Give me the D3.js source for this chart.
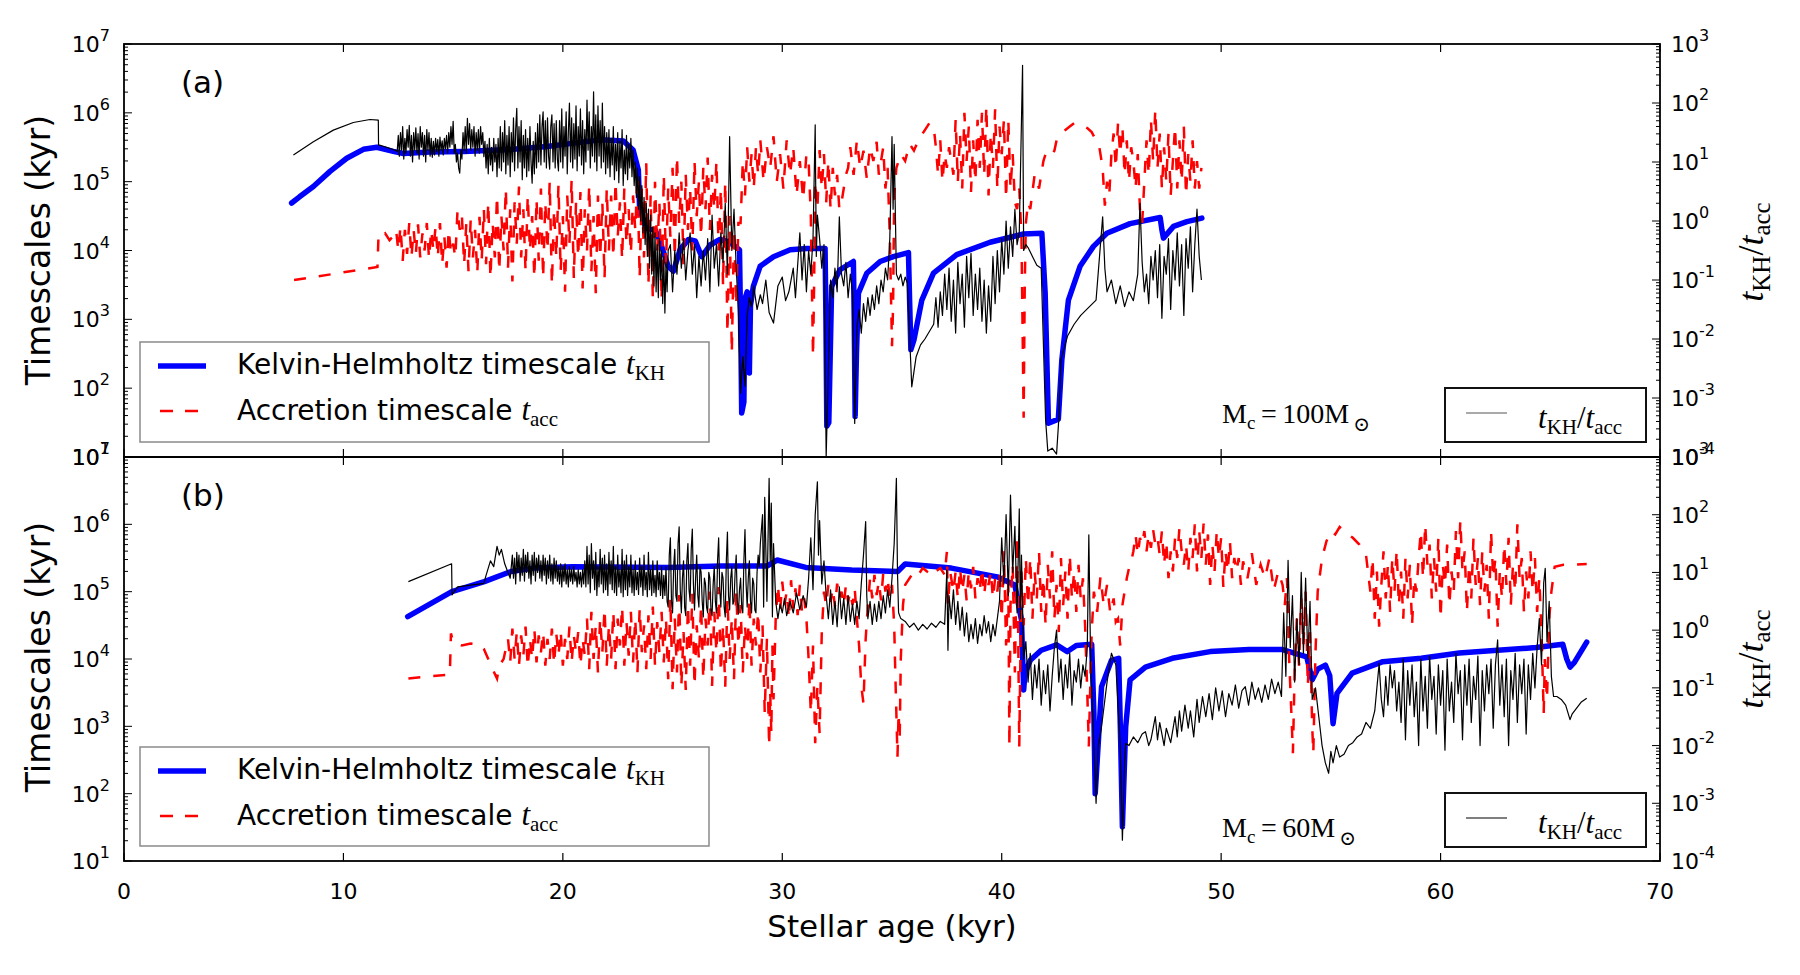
<!DOCTYPE html>
<html><head><meta charset="utf-8">
<script src="https://cdn.jsdelivr.net/npm/d3@7"></script>
<style>body{margin:0;background:#fff}svg{display:block}</style>
</head><body>
<script>
// ---------- DATA (stellar age in kyr, value given as log10) ----------
const xTicks = [0,10,20,30,40,50,60,70];
const leftExps = [1,2,3,4,5,6,7];
const rightExps = [-4,-3,-2,-1,0,1,2,3];

// Panel (a): Mc = 100 Msun
const kh_a = [[7.64,4.69],[8.0,4.78],[8.63,4.93],[9.39,5.15],[10.15,5.34],[10.91,5.47],[11.52,5.50],[12.27,5.44],[12.73,5.41],[13.95,5.43],[15.5,5.44],[17.74,5.47],[19.27,5.51],[20.5,5.56],[21.7,5.61],[22.76,5.59],[23.2,5.46],[23.44,5.17],[23.5,4.59],[23.82,4.32],[24.2,4.30],[24.4,4.16],[24.8,3.77],[25.04,3.70],[25.34,4.01],[25.72,4.16],[26.03,4.14],[26.33,3.91],[26.71,4.08],[27.16,4.16],[27.6,4.12],[28.05,4.01],[28.12,2.5],[28.15,1.64],[28.25,1.8],[28.3,3.3],[28.4,3.4],[28.5,2.22],[28.55,3.2],[28.68,3.48],[28.99,3.77],[29.6,3.91],[30.36,4.01],[31.12,4.03],[31.95,4.03],[31.99,3.0],[32.03,1.45],[32.12,1.5],[32.25,3.48],[32.63,3.72],[33.24,3.84],[33.28,3.0],[33.32,1.59],[33.38,2.5],[33.47,3.38],[33.85,3.67],[34.46,3.84],[35.06,3.91],[35.75,3.97],[35.8,3.3],[35.86,2.56],[36.0,2.7],[36.36,3.28],[36.89,3.67],[37.95,3.94],[39.47,4.12],[40.99,4.24],[41.83,4.25],[41.98,3.38],[42.13,1.49],[42.58,1.55],[42.74,2.41],[43.04,3.28],[43.57,3.77],[44.18,4.06],[44.79,4.25],[45.85,4.39],[47.22,4.48],[47.3,4.3],[47.37,4.18],[47.83,4.35],[48.44,4.42],[49.12,4.47]];

const acc_a = [[7.75,3.57],[11.55,3.76],[11.6,4.23],[11.7,4.2],[11.9,4.25],[12.1,4.15],[12.3,4.22],[12.4,4.3],[12.5,4.0],[12.6,4.35],[12.7,3.85],[12.8,4.3],[12.9,3.95],[13.0,4.4],[13.1,3.9],[13.2,4.3],[13.3,3.95],[13.4,4.38],[13.5,3.9],[13.6,4.25],[13.7,4.0],[13.8,4.4],[13.9,3.88],[14.0,4.3],[14.1,4.0],[14.2,4.35],[14.3,3.9],[14.4,4.4],[14.5,3.8],[14.6,4.2],[14.7,3.75],[14.8,4.3],[14.9,3.95],[15.0,4.1],[15.1,3.9],[15.2,4.59],[15.3,4.3],[15.4,4.5],[15.5,3.8],[15.6,4.4],[15.7,3.7],[15.8,4.45],[15.9,3.9],[16.0,4.3],[16.1,3.67],[16.2,4.49],[16.3,3.85],[16.4,4.6],[16.5,3.8],[16.6,4.7],[16.7,3.6],[16.8,4.4],[16.9,3.9],[17.0,4.8],[17.1,3.7],[17.2,4.5],[17.3,4.0],[17.4,4.9],[17.5,3.75],[17.6,4.6],[17.7,3.55],[17.8,4.7],[17.9,4.1],[18.0,4.93],[18.1,3.9],[18.2,4.6],[18.3,3.7],[18.4,4.8],[18.5,4.0],[18.6,4.5],[18.7,3.6],[18.8,4.75],[18.9,3.85],[19.0,4.9],[19.1,3.6],[19.2,4.7],[19.3,4.0],[19.4,5.0],[19.5,3.5],[19.6,4.6],[19.7,3.9],[19.8,4.95],[19.9,3.7],[20.0,4.5],[20.1,3.4],[20.2,4.8],[20.3,4.1],[20.4,5.03],[20.5,3.6],[20.6,4.7],[20.7,3.9],[20.8,4.85],[20.9,3.45],[21.0,4.6],[21.1,4.0],[21.2,4.95],[21.3,3.7],[21.4,4.5],[21.5,3.38],[21.6,4.8],[21.7,3.9],[21.8,4.7],[21.9,3.6],[22.0,4.9],[22.1,4.0],[22.2,4.8],[22.3,3.9],[22.4,5.0],[22.5,4.2],[22.6,4.7],[22.7,3.87],[22.8,4.9],[22.9,4.1],[23.0,4.6],[23.1,3.95],[23.2,4.8],[23.3,4.3],[23.4,5.1],[23.5,3.6],[23.6,4.9],[23.7,3.9],[23.8,5.27],[23.9,3.5],[24.0,4.8],[24.1,3.3],[24.2,5.0],[24.3,4.0],[24.4,4.7],[24.5,3.28],[24.6,5.1],[24.7,3.8],[24.8,4.9],[24.9,4.2],[25.0,5.2],[25.1,3.9],[25.2,5.37],[25.3,4.4],[25.4,5.0],[25.5,3.8],[25.6,5.1],[25.7,4.3],[25.8,4.9],[25.9,4.0],[26.0,5.3],[26.1,4.5],[26.2,5.0],[26.3,4.2],[26.4,5.2],[26.5,4.6],[26.6,5.35],[26.7,4.3],[26.8,5.1],[26.9,4.6],[27.0,5.3],[27.1,4.0],[27.2,4.9],[27.3,3.5],[27.4,5.0],[27.5,2.8],[27.6,4.5],[27.7,2.51],[27.8,4.3],[27.9,3.2],[28.0,4.4],[28.1,4.4],[28.2,5.3],[28.3,4.8],[28.4,5.5],[28.5,5.0],[28.6,5.4],[28.7,4.9],[28.8,5.5],[28.9,5.1],[29.0,5.6],[29.15,5.0],[29.3,5.5],[29.45,5.2],[29.6,5.66],[29.75,5.0],[29.9,5.4],[30.05,4.9],[30.2,5.6],[30.35,5.1],[30.5,5.5],[30.65,4.8],[30.8,5.3],[30.95,4.74],[31.1,5.4],[31.2,5.3],[31.3,4.5],[31.4,2.46],[31.45,3.5],[31.5,5.0],[31.6,4.6],[31.7,5.46],[31.8,4.9],[31.9,5.4],[32.0,4.7],[32.1,5.3],[32.2,4.6],[32.3,5.2],[32.4,4.8],[32.5,5.1],[32.6,4.6],[32.7,4.7],[32.8,4.9],[32.9,5.1],[33.0,5.2],[33.1,5.5],[33.25,5.1],[33.4,5.6],[33.55,5.2],[33.7,5.45],[33.85,5.05],[34.0,5.5],[34.15,5.3],[34.3,5.58],[34.4,5.1],[34.6,5.5],[34.7,4.9],[34.8,5.2],[34.9,4.2],[35.0,2.61],[35.05,3.2],[35.1,4.8],[35.2,5.2],[35.4,5.4],[35.6,5.3],[35.8,5.55],[36.0,5.45],[36.2,5.6],[36.4,5.7],[36.6,5.8],[36.7,5.85],[36.9,5.8],[37.0,5.5],[37.1,5.1],[37.2,5.6],[37.3,5.0],[37.4,5.4],[37.5,5.2],[37.6,5.5],[37.8,5.1],[37.9,5.9],[38.0,5.0],[38.1,5.7],[38.2,4.9],[38.3,6.0],[38.4,5.3],[38.5,5.8],[38.6,4.85],[38.7,5.6],[38.8,5.0],[38.9,5.9],[39.0,5.2],[39.1,6.0],[39.2,5.1],[39.3,6.1],[39.4,4.8],[39.5,5.7],[39.6,5.2],[39.7,6.05],[39.8,4.9],[39.9,5.8],[40.0,5.4],[40.1,5.9],[40.2,4.75],[40.3,5.9],[40.4,4.9],[40.5,5.4],[40.6,4.7],[40.7,4.6],[40.8,4.9],[40.9,4.2],[41.0,1.57],[41.05,3.5],[41.1,4.4],[41.2,4.7],[41.3,4.6],[41.5,5.1],[41.7,4.9],[41.9,5.3],[42.0,5.4],[42.2,5.35],[42.4,5.45],[42.5,5.6],[42.7,5.7],[42.9,5.75],[43.1,5.8],[43.3,5.85],[43.6,5.82],[43.9,5.78],[44.1,5.72],[44.3,5.6],[44.45,5.5],[44.6,5.2],[44.7,4.65],[44.8,5.0],[44.9,4.8],[45.0,5.4],[45.1,5.7],[45.2,5.2],[45.3,5.85],[45.4,5.4],[45.5,5.8],[45.6,5.1],[45.7,5.6],[45.8,5.0],[45.9,5.5],[46.0,5.3],[46.1,4.9],[46.2,5.4],[46.3,4.6],[46.4,4.4],[46.5,5.0],[46.6,5.6],[46.7,5.1],[46.8,5.9],[46.9,5.3],[47.0,6.05],[47.1,5.2],[47.2,5.7],[47.3,4.9],[47.4,5.5],[47.5,5.0],[47.6,5.7],[47.7,4.8],[47.8,5.3],[47.9,5.8],[48.0,4.9],[48.1,5.6],[48.2,5.0],[48.3,5.8],[48.4,4.8],[48.5,5.4],[48.6,5.0],[48.7,5.6],[48.8,4.9],[48.9,5.3],[49.0,4.9],[49.1,5.2]];

const ratio_a = [[7.72,1.12],[8.63,1.345],[9.54,1.54],[10.45,1.67],[11.21,1.72],[11.59,1.71],[11.6,1.29],[11.97,1.25],[12.35,1.20],[12.45,1.18],
[12.50,1.45],[12.55,1.1],[12.60,1.5],[12.65,1.2],[12.70,1.6],[12.75,1.05],[12.80,1.4],[12.85,1.15],[12.90,1.55],[12.95,1.25],[13.00,1.62],[13.05,1.1],[13.10,1.45],[13.15,1.0],[13.20,1.5],[13.25,1.2],[13.30,1.58],[13.35,1.15],[13.40,1.48],[13.45,1.05],[13.50,1.6],[13.55,1.25],[13.60,1.5],[13.65,1.1],[13.70,1.45],[13.75,1.0],[13.80,1.55],[13.85,1.2],[13.90,1.5],[13.95,1.1],[14.00,1.4],[14.05,1.08],
[14.10,1.35],[14.15,1.12],[14.20,1.4],[14.25,1.18],[14.30,1.38],[14.35,1.1],[14.40,1.42],[14.45,1.2],[14.50,1.36],[14.55,1.12],[14.60,1.4],[14.65,1.22],[14.70,1.45],[14.75,1.15],[14.80,1.5],[14.85,1.25],[14.90,1.6],[14.95,1.3],[15.00,1.69],[15.05,1.15],[15.10,1.3],[15.15,1.0],[15.20,1.15],[15.25,0.9],[15.30,0.81],[15.35,1.2],[15.40,1.05],
[15.45,1.5],[15.50,1.2],[15.55,1.6],[15.60,1.15],[15.65,1.74],[15.70,1.3],[15.75,1.65],[15.80,1.2],[15.85,1.55],[15.90,1.25],[15.95,1.6],[16.00,1.1],[16.05,1.5],[16.10,1.2],[16.15,1.55],[16.20,1.15],[16.25,1.6],[16.30,1.3],[16.35,1.5],[16.40,1.09],
[16.45,1.35],[16.50,0.9],[16.55,1.3],[16.60,0.8],[16.65,1.4],[16.70,0.95],[16.75,1.25],[16.80,0.85],[16.85,1.4],[16.90,1.0],[16.95,1.3],[17.00,0.75],
[17.05,1.4],[17.10,0.9],[17.15,1.6],[17.20,0.85],[17.25,1.5],[17.30,1.0],[17.35,1.7],[17.40,0.8],[17.45,1.45],[17.50,0.95],[17.55,1.6],[17.60,0.75],[17.65,1.5],[17.70,1.0],[17.75,1.75],[17.80,0.85],[17.85,1.55],[17.90,1.91],[17.95,0.9],[18.00,1.6],[18.05,1.0],[18.10,1.7],[18.15,0.7],[18.20,1.45],[18.25,0.9],[18.30,1.55],[18.35,0.75],[18.40,1.4],[18.45,0.85],[18.50,1.6],[18.55,1.0],[18.60,0.64],[18.65,1.35],[18.70,0.8],[18.75,1.5],[18.80,0.9],[18.85,1.65],[18.90,1.0],
[18.95,1.8],[19.00,0.95],[19.05,1.6],[19.10,1.85],[19.15,1.0],[19.20,1.7],[19.25,0.9],[19.30,1.75],[19.35,1.1],[19.40,0.88],[19.45,1.6],[19.50,1.8],[19.55,1.0],[19.60,1.65],[19.65,0.9],[19.70,1.7],[19.75,1.05],[19.80,0.85],
[19.85,1.7],[19.90,1.0],[19.95,1.9],[20.00,0.9],[20.05,1.6],[20.10,1.1],[20.15,1.85],[20.20,0.8],[20.25,1.5],[20.30,2.0],[20.35,1.0],[20.40,1.75],[20.45,0.9],[20.50,1.65],[20.55,1.05],[20.60,1.95],[20.65,0.85],[20.70,1.6],[20.75,1.1],[20.80,1.9],[20.85,0.95],[20.90,1.7],[20.95,0.8],[21.00,1.55],[21.05,1.0],[21.10,2.05],[21.15,1.2],[21.20,1.85],[21.25,0.9],[21.30,1.6],[21.35,1.1],[21.40,2.19],[21.45,1.0],[21.50,1.8],[21.55,0.85],[21.60,1.95],[21.65,1.1],[21.70,1.7],[21.75,0.9],[21.80,2.0],[21.85,1.0],[21.90,1.6],[21.95,0.8],[22.00,1.5],
[22.05,0.9],[22.10,1.55],[22.15,0.75],[22.20,1.4],[22.25,0.95],[22.30,1.6],[22.35,0.7],[22.40,1.3],[22.45,0.85],[22.50,1.5],[22.55,0.65],[22.60,1.35],[22.65,0.9],[22.70,1.55],[22.75,0.6],[22.80,1.2],[22.85,0.8],[22.90,1.45],[22.95,0.7],[23.00,1.3],[23.05,0.9],[23.10,1.4],[23.15,0.75],[23.20,1.2],
[23.25,0.6],[23.30,1.0],[23.35,0.4],[23.40,0.9],[23.45,0.2],[23.50,0.75],[23.55,0.0],[23.60,0.6],[23.65,-0.2],[23.70,0.4],[23.75,-0.4],[23.80,0.3],[23.85,-0.6],[23.90,0.2],[23.95,-0.8],[24.00,0.1],[24.05,-0.9],[24.10,-0.1],[24.15,-1.1],[24.20,-0.2],[24.25,-1.2],[24.30,-0.4],[24.35,-1.3],[24.40,-0.3],[24.45,-1.0],[24.50,-0.5],[24.55,-1.4],[24.60,-0.6],[24.65,-1.56],[24.70,-0.7],[24.75,-1.2],[24.80,-0.5],
[24.9,-0.4],[25.0,-1.2],[25.1,-0.5],[25.2,-0.9],[25.3,-0.2],[25.4,-0.8],[25.5,-0.3],[25.6,-1.0],[25.7,-0.5],[25.8,-0.2],[25.9,-0.9],[26.0,-0.4],[26.1,-1.3],[26.2,-0.6],[26.3,-1.1],[26.4,-0.5],[26.5,-1.0],[26.6,-0.3],[26.7,-1.2],[26.8,0.1],[26.9,-0.8],[27.0,-0.4],[27.1,-1.1],[27.2,-0.2],[27.3,-0.7],[27.4,0.3],[27.5,-0.9],[27.6,1.43],[27.7,-0.5],[27.8,0.2],[27.9,-0.8],[28.0,-1.5],[28.1,-2.92],[28.2,-2.3],[28.3,-2.8],[28.4,-1.6],[28.5,-1.3],[28.6,-1.45],[28.7,-1.1],[28.85,-1.5],[29.0,-1.25],[29.1,-1.4],[29.25,-1.0],[29.4,-1.55],[29.6,-1.73],[29.8,-1.1],[30.0,-0.95],[30.15,-1.35],[30.3,-1.2],[30.5,-0.8],[30.6,-1.3],[30.7,-0.75],[30.8,-0.2],[30.9,-1.0],[31.0,-0.4],[31.1,-1.2],[31.2,-0.5],[31.3,-0.9],[31.4,-0.3],[31.5,1.63],[31.55,-0.6],[31.6,0.1],[31.7,-0.3],[31.8,-0.8],[31.9,-0.4],[32.0,-3.99],[32.1,-2.5],[32.2,-1.0],[32.3,-1.3],[32.4,-0.8],[32.5,-1.2],[32.6,0.07],[32.7,-0.9],[32.8,-1.1],[32.9,-0.7],[33.0,-1.3],[33.1,-0.9],[33.2,-1.2],[33.3,-3.43],[33.4,-1.8],[33.5,-1.5],[33.6,-1.9],[33.7,-1.4],[33.8,-1.7],[33.9,-1.3],[34.0,-1.6],[34.1,-1.25],[34.2,-1.5],[34.3,-1.1],[34.4,-1.4],[34.5,-1.0],[34.6,-1.2],[34.7,-0.8],[34.8,-1.0],[34.9,-0.3],[35.0,1.43],[35.05,0.2],[35.1,1.3],[35.2,-0.9],[35.3,-1.0],[35.4,-0.9],[35.5,-1.1],[35.6,-0.95],[35.7,-1.05],[35.9,-2.81],[36.1,-2.3],[36.3,-2.1],[36.5,-2.0],[36.9,-1.75],[37.0,-1.3],[37.1,-1.8],[37.2,-1.2],[37.3,-1.6],[37.4,-0.9],[37.5,-1.5],[37.6,-0.8],[37.7,-1.7],[37.8,-1.0],[37.9,-1.9],[38.0,-0.7],[38.1,-1.4],[38.2,-0.9],[38.3,-1.8],[38.4,-0.6],[38.5,-1.3],[38.6,-0.55],[38.7,-1.6],[38.8,-0.9],[38.9,-1.5],[39.0,-0.8],[39.1,-1.7],[39.2,-1.0],[39.3,-1.9],[39.4,-1.1],[39.5,-1.7],[39.6,-0.6],[39.7,-1.4],[39.8,-0.5],[39.9,-1.2],[40.0,-0.3],[40.1,-0.9],[40.2,0.0],[40.3,-0.8],[40.4,-0.1],[40.5,-0.6],[40.6,0.2],[40.7,-0.4],[40.8,-0.2],[40.95,2.64],[41.0,-0.5],[41.1,-0.4],[41.2,-0.45],[41.4,-0.6],[41.6,-0.75],[41.8,-0.8],[42.0,-3.37],[42.1,-3.9],[42.3,-3.85],[42.5,-3.95],[42.6,-3.37],[42.7,-2.35],[43.0,-1.95],[43.3,-1.75],[43.6,-1.6],[44.0,-1.45],[44.3,-1.34],[44.6,0.07],[44.7,-0.8],[44.8,-1.2],[45.0,-1.0],[45.2,-1.4],[45.4,-1.1],[45.6,-1.45],[45.8,-1.2],[46.0,-1.35],[46.2,-0.9],[46.3,0.3],[46.4,-0.7],[46.5,-1.2],[46.6,-0.9],[46.7,-1.4],[46.8,-0.6],[46.9,-1.0],[47.0,-0.5],[47.1,-1.3],[47.2,-0.4],[47.3,-1.65],[47.4,-0.6],[47.5,-0.9],[47.6,-0.3],[47.7,-1.5],[47.8,-0.5],[47.9,-1.0],[48.0,-0.2],[48.1,-1.1],[48.2,-0.4],[48.3,-1.6],[48.4,-0.3],[48.5,-0.8],[48.6,-0.1],[48.7,-1.2],[48.8,-0.4],[48.9,0.2],[49.0,-0.6],[49.1,-1.0]];

// Panel (b): Mc = 60 Msun
const kh_b = [[12.93,4.63],[14.94,5.0],[16.42,5.15],[17.64,5.30],[18.69,5.35],[20.43,5.37],[24.8,5.36],[27.2,5.38],[29.3,5.38],[29.76,5.47],[31.07,5.36],[33.16,5.32],[35.26,5.30],[35.6,5.41],[37.7,5.35],[39.8,5.22],[39.93,5.20],[40.6,5.1],[40.9,4.58],[41.0,3.54],[41.06,3.79],[41.3,3.98],[41.8,4.13],[42.5,4.21],[42.99,4.11],[43.4,4.2],[44.1,4.22],[44.2,3.2],[44.26,2.0],[44.4,2.75],[44.55,3.59],[45.0,3.98],[45.33,4.01],[45.42,2.8],[45.5,1.51],[45.58,2.3],[45.65,2.99],[45.85,3.69],[46.55,3.88],[47.77,4.01],[49.5,4.11],[51.27,4.14],[52.8,4.14],[53.9,4.03],[54.15,3.69],[54.4,3.85],[54.75,3.91],[54.95,3.75],[55.1,3.04],[55.28,3.49],[55.97,3.79],[57.37,3.96],[59.12,4.01],[60.85,4.09],[62.6,4.13],[64.35,4.17],[65.57,4.22],[65.75,4.0],[65.9,3.88],[66.1,3.95],[66.66,4.25]];

const acc_b = [[12.96,3.71],[14.85,3.77],[14.9,4.38],[15.0,4.25],[15.4,4.2],[15.8,4.23],[16.2,4.22],[16.4,4.15],[16.6,4.0],[16.8,3.85],[17.0,3.71],[17.1,3.9],[17.3,4.0],[17.5,4.3],[17.6,3.95],[17.7,4.45],[17.8,4.0],[17.9,4.4],[18.0,3.9],[18.1,4.35],[18.2,4.05],[18.3,4.48],[18.4,3.88],[18.5,4.3],[18.6,4.0],[18.7,4.45],[18.8,3.95],[18.9,4.35],[19.0,4.1],[19.1,4.4],[19.2,3.9],[19.3,4.3],[19.4,4.0],[19.5,4.45],[19.6,3.92],[19.7,4.38],[19.8,4.05],[19.9,4.42],[20.0,3.9],[20.1,4.3],[20.2,4.0],[20.3,4.48],[20.4,3.95],[20.5,4.35],[20.6,4.1],[20.7,4.4],[20.8,3.9],[20.9,4.3],[21.0,4.05],[21.1,4.6],[21.2,3.85],[21.3,4.7],[21.4,4.0],[21.5,4.5],[21.6,3.8],[21.7,4.6],[21.8,4.1],[21.9,4.75],[22.0,3.9],[22.1,4.5],[22.2,4.0],[22.3,4.7],[22.4,3.85],[22.5,4.6],[22.6,4.2],[22.7,4.78],[22.8,3.9],[22.9,4.55],[23.0,4.05],[23.1,4.7],[23.2,3.95],[23.3,4.6],[23.4,3.8],[23.5,4.75],[23.6,4.1],[23.7,4.5],[23.8,3.85],[23.9,4.65],[24.0,4.0],[24.1,4.78],[24.2,3.9],[24.3,4.55],[24.4,4.1],[24.5,4.7],[24.6,3.95],[24.7,4.6],[24.8,3.7],[24.9,4.9],[25.0,3.55],[25.1,4.6],[25.2,3.8],[25.3,4.95],[25.4,3.6],[25.5,4.4],[25.6,3.54],[25.7,4.8],[25.8,3.9],[25.9,4.97],[26.0,3.6],[26.1,4.5],[26.2,4.0],[26.3,4.8],[26.4,3.7],[26.5,4.6],[26.6,4.2],[26.7,5.0],[26.8,3.6],[26.9,4.7],[27.0,4.1],[27.1,5.07],[27.2,3.8],[27.3,4.5],[27.4,3.59],[27.5,4.9],[27.6,4.0],[27.7,4.6],[27.8,3.7],[27.9,5.0],[28.0,4.2],[28.1,4.8],[28.2,3.8],[28.3,4.5],[28.4,4.0],[28.5,4.9],[28.6,3.9],[28.7,4.6],[28.8,4.2],[28.9,4.7],[29.0,3.8],[29.1,4.5],[29.2,3.2],[29.3,4.3],[29.4,2.7],[29.45,3.5],[29.5,2.9],[29.55,4.2],[29.6,3.4],[29.7,4.6],[29.8,5.1],[29.9,4.7],[30.0,5.15],[30.1,4.8],[30.2,5.0],[30.3,4.6],[30.4,5.17],[30.5,4.75],[30.6,5.05],[30.7,4.65],[30.8,5.1],[30.9,4.7],[31.0,4.9],[31.1,4.6],[31.2,4.0],[31.3,3.2],[31.4,4.2],[31.5,2.75],[31.6,3.6],[31.7,2.9],[31.8,4.4],[31.9,5.0],[32.0,4.8],[32.1,5.1],[32.2,4.85],[32.3,5.05],[32.4,4.78],[32.5,5.12],[32.6,4.9],[32.7,5.0],[32.8,4.8],[32.9,5.1],[33.0,4.85],[33.1,5.0],[33.2,4.8],[33.3,5.05],[33.4,4.6],[33.5,4.2],[33.6,3.6],[33.7,3.34],[33.8,4.3],[33.9,4.8],[34.0,5.2],[34.1,4.9],[34.2,5.25],[34.3,4.95],[34.4,5.15],[34.5,4.87],[34.6,5.27],[34.7,5.0],[34.8,5.2],[34.9,4.9],[35.0,5.1],[35.1,4.5],[35.15,3.8],[35.25,2.55],[35.3,3.2],[35.35,2.8],[35.4,4.0],[35.5,4.8],[35.6,5.1],[35.8,5.2],[36.0,5.3],[36.2,5.25],[36.4,5.35],[36.6,5.3],[36.8,5.37],[37.0,5.3],[37.2,5.35],[37.4,5.25],[37.5,5.59],[37.55,4.8],[37.65,5.3],[37.8,5.0],[37.9,5.3],[38.0,4.9],[38.1,5.35],[38.2,5.0],[38.3,5.25],[38.4,4.87],[38.5,5.3],[38.6,5.05],[38.7,5.37],[38.8,4.9],[38.9,5.2],[39.0,5.0],[39.1,5.35],[39.2,4.95],[39.3,5.25],[39.4,5.1],[39.5,5.3],[39.6,4.9],[39.7,5.2],[39.8,5.0],[39.9,5.3],[40.0,4.6],[40.1,5.6],[40.2,4.2],[40.3,5.2],[40.35,2.7],[40.4,4.8],[40.5,5.4],[40.6,3.8],[40.7,5.81],[40.75,4.4],[40.8,2.7],[40.85,4.0],[40.9,5.3],[41.0,4.5],[41.1,5.5],[41.2,4.8],[41.3,5.5],[41.4,4.6],[41.5,5.3],[41.6,4.9],[41.7,5.6],[41.8,4.7],[41.9,5.2],[42.0,4.5],[42.1,5.4],[42.2,4.9],[42.3,5.6],[42.4,4.6],[42.5,5.1],[42.6,4.4],[42.7,5.5],[42.8,4.8],[42.9,5.3],[43.0,4.6],[43.1,5.55],[43.2,4.9],[43.3,5.3],[43.4,4.7],[43.5,5.4],[43.6,4.9],[43.7,5.2],[43.8,4.5],[43.9,3.5],[43.97,2.7],[44.05,3.8],[44.1,4.4],[44.2,5.0],[44.35,4.7],[44.5,5.22],[44.65,4.8],[44.8,5.1],[44.95,4.68],[45.1,4.9],[45.2,4.55],[45.3,4.6],[45.4,4.2],[45.5,4.8],[45.6,5.0],[45.7,5.2],[45.8,5.35],[45.9,5.45],[46.0,5.6],[46.1,5.85],[46.2,5.55],[46.3,5.8],[46.4,5.7],[46.5,5.9],[46.6,5.6],[46.7,5.85],[46.8,5.65],[46.9,5.92],[47.0,5.7],[47.1,5.8],[47.2,5.55],[47.3,5.9],[47.4,5.4],[47.5,5.75],[47.6,5.2],[47.7,5.6],[47.8,5.3],[47.9,5.8],[48.0,5.5],[48.1,5.95],[48.2,5.6],[48.3,5.4],[48.4,5.7],[48.5,5.3],[48.6,5.8],[48.7,5.5],[48.8,6.0],[48.9,5.3],[49.0,5.9],[49.1,5.5],[49.2,6.01],[49.3,5.4],[49.4,5.85],[49.5,5.1],[49.6,5.7],[49.7,5.3],[49.8,5.9],[49.9,5.5],[50.0,5.8],[50.1,5.07],[50.2,5.6],[50.3,5.3],[50.4,5.75],[50.5,5.2],[50.6,5.5],[50.7,5.3],[50.8,5.5],[50.9,5.1],[51.0,5.45],[51.2,5.2],[51.4,5.57],[51.6,5.1],[51.8,5.4],[52.0,5.2],[52.2,5.5],[52.4,5.02],[52.6,5.3],[52.8,5.1],[52.9,4.8],[53.0,5.2],[53.1,4.0],[53.2,3.2],[53.27,2.6],[53.35,3.8],[53.45,4.6],[53.55,3.9],[53.65,4.9],[53.75,4.2],[53.85,5.0],[53.95,3.6],[54.05,4.4],[54.15,3.0],[54.2,2.6],[54.3,4.1],[54.4,5.0],[54.6,5.5],[54.8,5.75],[55.0,5.9],[55.2,5.85],[55.4,5.96],[55.6,5.9],[55.8,5.85],[56.0,5.8],[56.3,5.7],[56.6,5.55],[56.8,5.0],[56.9,5.5],[57.0,4.6],[57.1,5.3],[57.2,4.48],[57.3,5.1],[57.4,5.6],[57.5,4.9],[57.6,5.4],[57.7,4.7],[57.8,5.5],[57.9,5.0],[58.0,5.62],[58.1,4.8],[58.2,5.3],[58.3,4.6],[58.4,5.5],[58.5,4.9],[58.6,5.4],[58.7,4.5],[58.8,5.2],[58.9,5.0],[59.0,5.5],[59.1,5.9],[59.2,5.2],[59.3,6.0],[59.4,5.4],[59.5,5.7],[59.6,4.9],[59.7,5.5],[59.8,5.0],[59.9,5.8],[60.0,4.6],[60.1,5.4],[60.2,5.1],[60.3,5.7],[60.4,4.8],[60.5,5.3],[60.6,5.0],[60.7,5.9],[60.8,5.2],[60.9,6.06],[61.0,5.3],[61.1,5.6],[61.2,4.7],[61.3,5.4],[61.4,4.9],[61.5,5.8],[61.6,5.1],[61.7,5.5],[61.8,4.8],[61.9,5.6],[62.0,5.0],[62.1,5.4],[62.2,4.6],[62.3,5.9],[62.4,5.2],[62.5,5.5],[62.6,4.48],[62.7,5.3],[62.8,4.9],[62.9,5.7],[63.0,5.1],[63.1,5.8],[63.2,4.8],[63.3,5.4],[63.4,5.0],[63.5,6.0],[63.6,5.2],[63.7,5.5],[63.8,4.7],[63.9,5.3],[64.0,4.9],[64.1,5.6],[64.2,5.0],[64.3,5.5],[64.4,4.7],[64.5,5.2],[64.6,4.4],[64.7,3.19],[64.75,4.0],[64.85,3.4],[64.95,4.6],[65.05,5.0],[65.2,5.37],[65.6,5.4],[66.0,5.4],[66.66,5.41]];

const ratio_b = [[12.96,0.84],[14.93,1.15],[14.95,0.61],[15.2,0.75],[15.8,0.78],[16.4,0.81],[16.5,0.95],[16.7,1.2],[16.85,1.1],[17.0,1.45],[17.1,1.3],[17.2,1.4],[17.35,1.15],[17.5,1.0],[17.6,0.9],
[17.65,1.1],[17.70,1.3],[17.75,0.9],[17.80,1.25],[17.85,0.8],[17.90,1.35],[17.95,1.0],[18.00,1.3],[18.05,0.85],[18.10,1.25],[18.15,0.95],[18.20,1.4],[18.25,0.85],[18.30,1.3],[18.35,1.0],[18.40,1.35],[18.45,0.9],[18.50,1.2],[18.55,0.8],[18.60,1.3],[18.65,0.95],[18.70,1.35],[18.75,0.85],[18.80,1.25],[18.85,1.0],[18.90,1.3],[18.95,0.9],[19.00,1.2],[19.05,0.85],[19.10,1.3],[19.15,0.95],[19.20,1.25],[19.25,0.8],[19.30,1.2],[19.35,0.9],[19.40,1.3],[19.45,0.85],[19.50,1.15],[19.55,0.8],[19.60,1.25],[19.65,0.9],[19.70,1.2],[19.75,0.85],[19.80,1.1],[19.85,0.8],[19.90,1.15],[19.95,0.75],[20.00,1.1],[20.05,0.85],[20.10,1.15],[20.15,0.8],[20.20,1.05],[20.25,0.75],[20.30,1.1],[20.35,0.85],[20.40,1.05],[20.45,0.8],[20.50,1.1],[20.55,0.85],[20.60,1.0],[20.65,0.75],[20.70,1.05],[20.75,0.8],[20.80,1.0],[20.85,0.75],[20.90,1.05],[20.95,0.8],[21.00,1.2],
[21.05,0.75],[21.10,1.45],[21.15,0.8],[21.20,1.3],[21.25,0.65],[21.30,1.5],[21.35,0.9],[21.40,1.2],[21.45,0.7],[21.50,1.35],[21.55,0.6],[21.60,1.1],[21.65,0.75],[21.70,1.4],[21.75,0.8],[21.80,1.25],[21.85,0.65],[21.90,1.3],[21.95,0.7],[22.00,1.15],[22.05,0.6],[22.10,1.35],[22.15,0.8],[22.20,1.2],[22.25,0.7],[22.30,1.45],[22.35,0.65],[22.40,1.1],[22.45,0.6],[22.50,1.3],[22.55,0.75],[22.60,1.05],[22.65,0.65],[22.70,1.4],[22.75,0.58],[22.80,1.2],[22.85,0.7],[22.90,1.3],[22.95,0.6],[23.00,1.1],[23.05,0.75],[23.10,1.3],[23.15,0.65],[23.20,1.05],[23.25,0.6],[23.30,1.2],[23.35,0.7],[23.40,1.0],[23.45,0.62],[23.50,1.25],[23.55,0.75],[23.60,1.1],[23.65,0.6],[23.70,1.3],[23.75,0.7],[23.80,1.0],[23.85,0.58],[23.90,1.35],[23.95,0.7],[24.00,1.05],[24.05,0.6],[24.10,1.2],[24.15,0.65],[24.20,0.95],[24.25,0.58],[24.30,1.2],[24.35,0.7],[24.40,1.0],[24.45,0.6],[24.50,1.1],[24.55,0.55],[24.60,0.95],[24.65,0.6],[24.70,1.1],[24.75,0.5],
[24.80,0.4],[24.85,1.3],[24.90,1.6],[24.95,0.5],[25.00,0.3],[25.05,1.1],[25.10,1.4],[25.15,0.6],[25.20,0.5],[25.25,1.5],[25.30,1.79],[25.35,0.7],[25.40,0.3],[25.45,0.9],[25.50,1.2],[25.55,0.4],[25.60,0.25],[25.65,1.2],[25.70,1.5],[25.75,0.7],[25.80,0.5],[25.85,1.4],[25.90,1.75],[25.95,0.8],[26.00,0.35],[26.05,0.9],[26.10,1.3],[26.15,0.6],[26.20,0.4],[26.25,1.1],[26.30,1.0],[26.35,0.5],[26.40,0.23],[26.45,0.9],[26.50,0.8],
[26.55,0.4],[26.60,0.3],[26.65,1.0],[26.70,0.9],[26.75,0.35],[26.80,0.25],[26.85,0.8],[26.90,1.1],[26.95,0.5],[27.00,0.3],[27.05,1.2],[27.10,1.6],[27.15,0.7],[27.20,0.4],[27.25,1.0],[27.30,0.9],[27.35,0.4],[27.40,0.23],[27.45,1.2],[27.50,1.7],[27.55,0.6],[27.60,0.35],[27.65,0.9],[27.70,1.1],[27.75,0.45],[27.80,0.5],[27.85,1.0],[27.90,1.3],[27.95,0.5],[28.00,0.28],[28.05,0.7],[28.10,0.9],[28.15,0.4],[28.20,0.3],[28.25,1.2],[28.30,1.74],[28.35,0.8],[28.40,0.4],[28.45,0.9],[28.50,1.2],[28.55,0.5],[28.60,0.3],[28.65,0.9],[28.70,0.8],[28.75,0.35],[28.80,0.3],[28.85,1.0],[28.90,1.3],[28.95,1.1],
[29.0,1.5],[29.1,2.0],[29.15,0.4],[29.2,2.3],[29.3,0.5],[29.4,2.63],[29.45,1.2],[29.5,2.2],[29.55,0.23],[29.6,1.5],[29.7,0.5],[29.8,0.2],[29.9,0.45],[30.0,0.3],[30.1,0.55],[30.2,0.25],[30.35,0.5],[30.5,0.3],[30.65,0.64],[30.8,0.35],[30.95,0.6],[31.1,0.4],[31.2,0.9],[31.3,1.6],[31.4,0.7],[31.5,2.0],[31.6,2.57],[31.65,1.3],[31.7,1.9],[31.8,0.8],[31.9,1.2],[32.0,0.6],[32.1,0.2],[32.2,0.7],[32.3,0.1],[32.4,0.5],[32.5,0.06],[32.6,0.75],[32.7,0.2],[32.8,0.55],[32.9,0.1],[33.0,0.6],[33.1,0.15],[33.2,0.45],[33.3,0.1],[33.4,0.5],[33.5,0.2],[33.6,0.8],[33.7,1.3],[33.8,1.88],[33.85,0.6],[33.9,0.2],[34.0,0.5],[34.1,0.1],[34.2,0.45],[34.3,0.15],[34.4,0.5],[34.5,0.2],[34.6,0.6],[34.7,0.3],[34.8,0.7],[34.9,0.4],[35.0,0.9],[35.1,1.5],[35.2,2.63],[35.25,1.0],[35.3,0.3],[35.4,0.2],[35.6,0.15],[35.8,0.05],[36.0,0.12],[36.2,0.0],[36.4,0.1],[36.6,0.02],[36.8,0.12],[37.0,0.05],[37.2,0.15],[37.4,0.1],[37.5,1.04],[37.55,-0.35],[37.6,0.6],[37.7,0.2],[37.8,0.7],[37.9,0.1],[38.0,0.5],[38.1,0.0],[38.2,0.4],[38.3,-0.1],[38.4,0.3],[38.5,-0.2],[38.6,0.1],[38.7,-0.15],[38.8,0.2],[38.9,-0.23],[39.0,0.1],[39.1,-0.1],[39.2,0.25],[39.3,-0.05],[39.4,0.15],[39.5,-0.2],[39.6,0.1],[39.7,-0.1],[39.8,0.2],[39.9,0.5],[40.0,1.6],[40.1,0.8],[40.2,2.0],[40.3,0.6],[40.4,2.34],[40.5,1.0],[40.6,1.8],[40.7,0.3],[40.8,2.1],[40.85,0.2],[40.9,1.3],[41.0,-0.5],[41.1,-0.2],[41.2,-0.9],[41.3,-0.4],[41.4,-1.2],[41.5,-0.6],[41.6,-1.0],[41.7,-0.5],[41.8,-1.3],[41.9,-0.7],[42.0,-1.1],[42.1,-0.6],[42.2,-1.4],[42.3,-0.8],[42.4,-0.3],[42.5,0.0],[42.6,-0.9],[42.7,-0.5],[42.8,-1.2],[42.9,-0.6],[43.0,-1.0],[43.1,-0.4],[43.2,-1.3],[43.3,-0.7],[43.4,-0.9],[43.5,-0.5],[43.6,-1.0],[43.7,-0.6],[43.8,-0.8],[43.9,-0.3],[43.97,1.65],[44.05,-0.5],[44.15,-1.5],[44.3,-3.0],[44.4,-2.0],[44.55,-1.67],[44.8,-0.9],[45.0,-0.40],[45.2,-0.6],[45.4,-2.0],[45.5,-3.64],[45.6,-2.3],[45.65,-1.96],[45.8,-2.0],[46.0,-1.85],[46.2,-1.95],[46.4,-1.8],[46.55,-1.76],[46.7,-2.0],[46.8,-1.9],[47.0,-1.5],[47.1,-1.9],[47.2,-1.6],[47.4,-2.0],[47.5,-1.7],[47.7,-1.95],[47.9,-1.5],[48.0,-1.85],[48.1,-1.4],[48.2,-1.75],[48.35,-1.3],[48.5,-1.7],[48.6,-1.4],[48.75,-1.85],[48.9,-1.2],[49.0,-1.6],[49.15,-1.15],[49.3,-1.5],[49.45,-1.1],[49.6,-1.55],[49.75,-1.0],[49.9,-1.4],[50.05,-1.05],[50.2,-1.5],[50.35,-1.1],[50.5,-1.3],[50.65,-0.95],[50.8,-1.35],[50.95,-1.05],[51.1,-0.98],[51.25,-1.3],[51.4,-0.9],[51.55,-1.2],[51.7,-1.0],[51.85,-1.25],[52.0,-0.95],[52.15,-1.2],[52.3,-0.85],[52.45,-1.1],[52.6,-0.9],[52.75,-1.15],[52.85,0.3],[52.95,-0.8],[53.05,1.21],[53.15,-0.3],[53.25,0.6],[53.35,-0.9],[53.45,0.2],[53.55,-0.6],[53.65,1.0],[53.75,-0.4],[53.85,0.9],[53.95,-0.5],[54.05,0.5],[54.15,-1.2],[54.3,-1.0],[54.45,-1.5],[54.6,-2.0],[54.75,-2.3],[54.9,-2.48],[55.0,-2.1],[55.1,-2.3],[55.25,-2.0],[55.4,-2.2],[55.6,-2.15],[55.8,-2.0],[56.0,-1.95],[56.2,-1.85],[56.4,-1.8],[56.6,-1.6],[56.8,-1.7],[57.0,-1.4],[57.2,-0.58],[57.3,-1.2],[57.4,-1.5],[57.5,-0.8],[57.6,-1.3],[57.7,-0.6],[57.8,-1.0],[57.9,-0.7],[58.0,-1.4],[58.1,-0.9],[58.2,-1.6],[58.3,-0.5],[58.4,-1.9],[58.5,-0.7],[58.6,-1.3],[58.7,-0.6],[58.8,-1.5],[58.9,-0.9],[59.0,-2.0],[59.1,-0.5],[59.2,-1.4],[59.3,-0.8],[59.4,-1.7],[59.5,-0.45],[59.6,-1.2],[59.7,-0.8],[59.8,-1.8],[59.9,-0.6],[60.0,-1.3],[60.1,-0.7],[60.2,-2.08],[60.3,-0.5],[60.4,-1.4],[60.5,-0.9],[60.6,-1.6],[60.7,-0.4],[60.8,-1.1],[60.9,-0.7],[61.0,-1.9],[61.1,-0.6],[61.2,-1.3],[61.3,-0.5],[61.4,-1.6],[61.5,-0.8],[61.6,-1.2],[61.7,-0.45],[61.8,-2.0],[61.9,-0.7],[62.0,-1.4],[62.1,-0.6],[62.2,-1.1],[62.3,-0.5],[62.4,-1.7],[62.5,-0.6],[62.6,-0.17],[62.7,-1.3],[62.8,-0.6],[62.9,-1.5],[63.0,-0.5],[63.1,-2.0],[63.2,-0.7],[63.3,-1.2],[63.4,-0.4],[63.5,-1.6],[63.6,-0.6],[63.7,-1.1],[63.8,-0.5],[63.9,-1.8],[64.0,-0.6],[64.1,-1.2],[64.2,-0.4],[64.3,-1.0],[64.4,-0.3],[64.5,0.2],[64.6,-0.6],[64.7,0.82],[64.77,1.07],[64.85,-0.2],[64.95,0.5],[65.05,-0.8],[65.15,-1.15],[65.3,-1.15],[65.5,-1.2],[65.7,-1.3],[65.9,-1.55],[66.0,-1.45],[66.2,-1.35],[66.4,-1.25],[66.66,-1.18]];

const panelTags = ["(a)","(b)"];
const massLabels = ["100","60"];

// ---------- LAYOUT ----------
const W = 1800, H = 975;
const X0 = 124, X1 = 1660;
const panelTops = [44, 457], panelBots = [457, 861];
const SANS = "'DejaVu Sans', sans-serif";
const SERIF = "'Liberation Serif', 'DejaVu Serif', serif";

const svg = d3.select("body").append("svg").attr("width", W).attr("height", H);
svg.append("rect").attr("width", W).attr("height", H).attr("fill", "#fff");

const x = d3.scaleLinear().domain([0, 70]).range([X0, X1]);
const datasets = [[kh_a, acc_a, ratio_a], [kh_b, acc_b, ratio_b]];

function powLabel(g, px, py, exp, anchor) {
  const t = g.append("text").attr("x", px).attr("y", py).attr("text-anchor", anchor)
    .style("font-family", SANS).style("font-size", "22px").attr("fill", "#000");
  t.append("tspan").text("10");
  t.append("tspan").attr("dy", -11).style("font-size", "16px").text(String(exp));
}

[0, 1].forEach(p => {
  const top = panelTops[p], bot = panelBots[p];
  const yL = d3.scaleLog().domain([10, 1e7]).range([bot, top]);
  const yR = d3.scaleLog().domain([1e-4, 1e3]).range([bot, top]);
  const [kh, acc, ratio] = datasets[p];
  const g = svg.append("g");
  const cid = "clip" + p;
  svg.append("clipPath").attr("id", cid).append("rect")
    .attr("x", X0).attr("y", top).attr("width", X1 - X0).attr("height", bot - top);

  const lineL = d3.line().x(d => x(d[0])).y(d => yL(Math.pow(10, d[1])));
  const lineR = d3.line().x(d => x(d[0])).y(d => yR(Math.pow(10, d[1])));
  const plot = g.append("g").attr("clip-path", `url(#${cid})`);
  plot.append("path").datum(kh).attr("d", lineL).attr("fill", "none")
    .attr("stroke", "#0000ff").attr("stroke-width", 5.5).attr("stroke-linejoin", "round").attr("stroke-linecap", "round");
  plot.append("path").datum(acc).attr("d", lineL).attr("fill", "none")
    .attr("stroke", "#ff0000").attr("stroke-width", 2.5).attr("stroke-dasharray", "12,13");
  plot.append("path").datum(ratio).attr("d", lineR).attr("fill", "none")
    .attr("stroke", "#000").attr("stroke-width", 1.2).attr("stroke-linejoin", "round");

  // frame
  g.append("rect").attr("x", X0).attr("y", top).attr("width", X1 - X0).attr("height", bot - top)
    .attr("fill", "none").attr("stroke", "#000").attr("stroke-width", 1.8);

  // x ticks (inside, top and bottom)
  xTicks.forEach(v => {
    g.append("line").attr("x1", x(v)).attr("x2", x(v)).attr("y1", bot).attr("y2", bot - 8).attr("stroke", "#000").attr("stroke-width", 1.2);
    g.append("line").attr("x1", x(v)).attr("x2", x(v)).attr("y1", top).attr("y2", top + 8).attr("stroke", "#000").attr("stroke-width", 1.2);
  });
  if (p === 1) {
    xTicks.forEach(v => {
      g.append("text").attr("x", x(v)).attr("y", 899).attr("text-anchor", "middle")
        .style("font-family", SANS).style("font-size", "22px").text(v);
    });
  }

  // left y ticks
  yL.ticks().forEach(v => {
    const major = leftExps.some(e => Math.abs(Math.log10(v) - e) < 1e-9);
    g.append("line").attr("x1", X0).attr("x2", X0 + (major ? 8 : 4)).attr("y1", yL(v)).attr("y2", yL(v))
      .attr("stroke", "#000").attr("stroke-width", 1);
  });
  leftExps.forEach(e => powLabel(g, X0 - 14, yL(Math.pow(10, e)) + 8, e, "end"));

  // right y ticks
  yR.ticks().forEach(v => {
    const major = rightExps.some(e => Math.abs(Math.log10(v) - e) < 1e-9);
    g.append("line").attr("x1", X1).attr("x2", X1 - (major ? 8 : 4)).attr("y1", yR(v)).attr("y2", yR(v))
      .attr("stroke", "#000").attr("stroke-width", 1);
  });
  rightExps.forEach(e => powLabel(g, X1 + 11, yR(Math.pow(10, e)) + 8, e, "start"));

  // panel tag
  g.append("text").attr("x", 181).attr("y", top + 49).style("font-family", SANS).style("font-size", "31px").text(panelTags[p]);

  // left y label
  const midL = p === 0 ? 250 : 657;
  g.append("text").attr("transform", `translate(50,${midL}) rotate(-90)`).attr("text-anchor", "middle")
    .style("font-family", SANS).style("font-size", "33px").text("Timescales (kyr)");

  // right y label
  const midR = p === 0 ? 252 : 659;
  const rl = g.append("text").attr("transform", `translate(1763,${midR}) rotate(-90)`).attr("text-anchor", "middle")
    .style("font-family", SERIF).style("font-size", "36px");
  rl.append("tspan").style("font-style", "italic").text("t");
  rl.append("tspan").attr("dy", 7).style("font-size", "25px").text("KH");
  rl.append("tspan").attr("dy", -7).text("/");
  rl.append("tspan").style("font-style", "italic").text("t");
  rl.append("tspan").attr("dy", 7).style("font-size", "25px").text("acc");

  // left legend
  const off = p === 0 ? 0 : 405;
  g.append("rect").attr("x", 140).attr("y", 342 + off).attr("width", 569).attr("height", 100 - (p ? 1 : 0))
    .attr("fill", "#fff").attr("stroke", "#8a8a8a").attr("stroke-width", 1.5);
  g.append("line").attr("x1", 158).attr("x2", 206).attr("y1", 366 + off).attr("y2", 366 + off)
    .attr("stroke", "#0000ff").attr("stroke-width", 5.5);
  g.append("line").attr("x1", 160).attr("x2", 199).attr("y1", 411 + off).attr("y2", 411 + off)
    .attr("stroke", "#ff0000").attr("stroke-width", 2.5).attr("stroke-dasharray", "13,12");
  const t1 = g.append("text").attr("x", 237).attr("y", 374 + off).style("font-family", SANS).style("font-size", "28px");
  t1.append("tspan").text("Kelvin-Helmholtz timescale ");
  t1.append("tspan").style("font-family", SERIF).style("font-style", "italic").style("font-size", "31px").text("t");
  t1.append("tspan").attr("dy", 6).style("font-family", SERIF).style("font-size", "21px").text("KH");
  const t2 = g.append("text").attr("x", 237).attr("y", 420 + off).style("font-family", SANS).style("font-size", "28px");
  t2.append("tspan").text("Accretion timescale ");
  t2.append("tspan").style("font-family", SERIF).style("font-style", "italic").style("font-size", "31px").text("t");
  t2.append("tspan").attr("dy", 6).style("font-family", SERIF).style("font-size", "21px").text("acc");

  // right legend
  g.append("rect").attr("x", 1445).attr("y", 388 + off).attr("width", 201).attr("height", 54)
    .attr("fill", "#fff").attr("stroke", "#111").attr("stroke-width", 2);
  g.append("line").attr("x1", 1466).attr("x2", 1507).attr("y1", 413 + off).attr("y2", 413 + off)
    .attr("stroke", p === 0 ? "#555" : "#000").attr("stroke-width", 1.2);
  const t3 = g.append("text").attr("x", 1538).attr("y", 428 + off).style("font-family", SERIF).style("font-size", "31px");
  t3.append("tspan").style("font-style", "italic").text("t");
  t3.append("tspan").attr("dy", 6).style("font-size", "21px").text("KH");
  t3.append("tspan").attr("dy", -6).text("/");
  t3.append("tspan").style("font-style", "italic").text("t");
  t3.append("tspan").attr("dy", 6).style("font-size", "21px").text("acc");

  // mass label
  const mx = 1222, my = p === 0 ? 423 : 837;
  const mt = g.append("text").attr("x", mx).attr("y", my).style("font-family", SERIF).style("font-size", "28px");
  mt.append("tspan").text("M");
  mt.append("tspan").attr("dy", 6).style("font-size", "19px").text("c");
  mt.append("tspan").attr("dy", -6).text("\u2009=\u2009" + massLabels[p] + "M");
  mt.append("tspan").attr("dy", 8).style("font-size", "20px").text("\u2009\u2299");
});

// x label
svg.append("text").attr("x", 892).attr("y", 937).attr("text-anchor", "middle")
  .style("font-family", SANS).style("font-size", "31px").text("Stellar age (kyr)");
</script>
</body></html>
